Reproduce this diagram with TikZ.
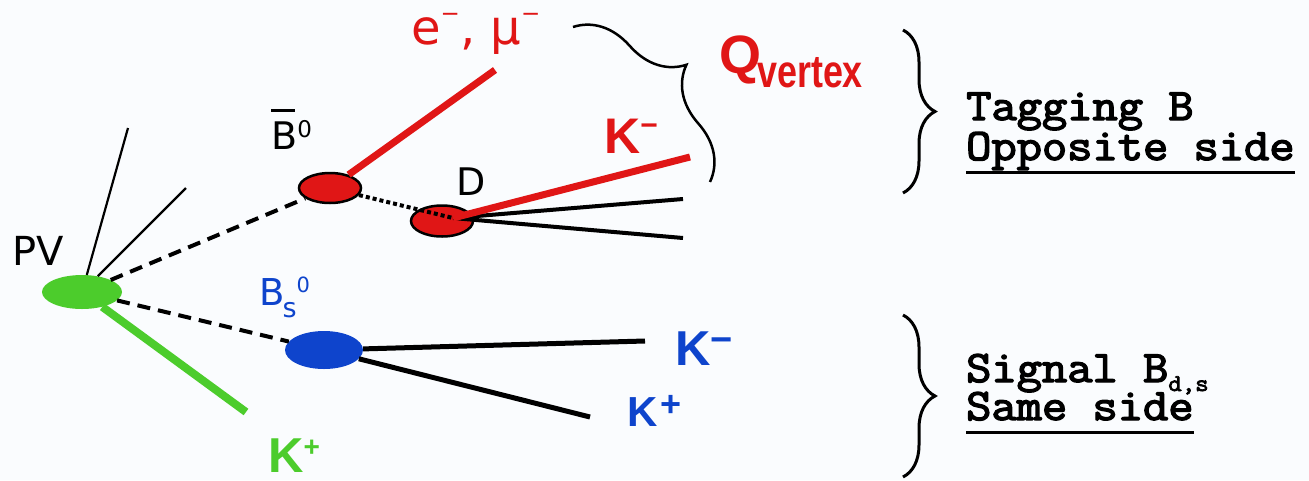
\documentclass[tikz,border=0pt]{standalone}
\usepackage{fontspec}
\setmainfont{DejaVu Sans}
\newfontfamily\arialfont{Liberation Sans}
\newfontfamily\courfont{Latin Modern Mono}[FakeBold=3]
\usepackage{graphicx}
\usetikzlibrary{shapes.geometric, decorations.pathreplacing}
\definecolor{tagred}{RGB}{224,22,22}
\definecolor{pvgreen}{RGB}{76,204,44}
\definecolor{sigblue}{RGB}{14,68,204}
\definecolor{paper}{RGB}{250,252,254}
\newcommand{\fsz}[1]{\fontsize{#1}{#1}\selectfont}
\newcommand{\lift}[3]{\raisebox{#1pt}{\fsz{#2}#3}}
\newcommand{\bbar}{\makebox[0pt][l]{\rule[37pt]{24pt}{2.8pt}}B}
\newcommand{\wide}[1]{\scalebox{1.09}[1]{#1}}
\newsavebox{\ulbox}
\newcommand{\undl}[1]{\sbox{\ulbox}{#1}\rlap{\usebox{\ulbox}}\rule[-14pt]{\wd\ulbox}{3.2pt}}

\begin{document}
\begin{tikzpicture}[x=1pt, y=1pt,
  vtx/.style={ellipse, inner sep=0pt},
  lbl/.style={anchor=base west, inner sep=0pt},
  side/.style={lbl, font=\courfont\fsz{45}},
  trk/.style={line width=2.2pt},
  fat/.style={line width=7pt},
  flight/.style={line width=4pt, dash pattern=on 13pt off 8pt},
  sidebrace/.style={line width=3pt, decorate, decoration={brace, amplitude=32pt}}]
  \fill[paper] (0,0) rectangle (1309,-480);
  \useasboundingbox (0,0) rectangle (1309,-480);

  \node[vtx, fill=pvgreen, minimum width=80, minimum height=34] (pv) at (82,-292) {};
  \node[vtx, fill=tagred, draw, line width=2.5pt, minimum width=62, minimum height=30] (b0) at (330,-188) {};
  \node[vtx, fill=tagred, draw, line width=2.5pt, minimum width=62, minimum height=31] (d) at (442,-221) {};
  \node[vtx, fill=sigblue, minimum width=78, minimum height=38] (bs) at (324,-350) {};

  \coordinate (pvt1) at (128,-128);
  \coordinate (pvt2) at (186,-188);
  \coordinate (ssk) at (246,-412);
  \coordinate (lep) at (495,-70);
  \coordinate (dsrc) at (453,-218);
  \coordinate (dk) at (690,-157);
  \coordinate (dp1) at (683,-199);
  \coordinate (dp2) at (683,-238);
  \coordinate (bskm) at (645,-341);
  \coordinate (bskp) at (590,-417);

  \draw[trk] (pv) -- (pvt1);
  \draw[trk] (pv) -- (pvt2);
  \draw[flight] (pv) -- (b0);
  \draw[flight] (pv) -- (bs);
  \draw[pvgreen, line width=8pt] (pv) -- (ssk);
  \draw[tagred, fat] (b0) -- (lep);
  \draw[line width=4pt, dash pattern=on 4pt off 3pt] (b0) -- (dsrc);
  \draw[line width=4pt] (dsrc) -- (dp1);
  \draw[line width=4pt] (dsrc) -- (dp2);
  \draw[tagred, fat] (dsrc) -- (dk);
  \draw[line width=5pt] (bs) -- (bskm);
  \draw[line width=5pt] (bs) -- (bskp);

  \node[lbl, font=\fsz{40}] (pvlab) at (12,-265) {PV};
  \node[lbl, font=\fsz{38}] (b0lab) at (271,-149) {\bbar\lift{12}{23}{0}};
  \node[lbl, font=\fsz{48}, text=tagred] (leplab) at (411,-44) {e\lift{23}{23}{−}, μ\lift{23}{23}{−}};
  \node[lbl, font=\fsz{38}] (dlab) at (456,-195) {D};
  \node[lbl, font=\arialfont\bfseries\fsz{50}, text=tagred] (dklab) at (604,-153) {K\lift{18}{30}{−}};
  \node[lbl, font=\arialfont\bfseries\fsz{54}, text=tagred] (qlab) at (719,-73) {Q\hspace{-4pt}\raisebox{-14pt}{\scalebox{0.78}[1]{\fsz{46}vertex}}};
  \node[lbl, font=\fsz{37}, text=sigblue] (bslab) at (259,-305) {B\hspace{-2pt}\lift{-12}{27}{s}\lift{13}{21}{0}};
  \node[lbl, font=\arialfont\bfseries\fsz{49}, text=sigblue] (bskmlab) at (675,-365) {K\lift{13}{38}{−}};
  \node[lbl, font=\arialfont\bfseries\fsz{42}, text=sigblue] (bskplab) at (627,-426) {K\hspace{3pt}\lift{10}{36}{+}};
  \node[lbl, font=\arialfont\bfseries\fsz{49}, text=pvgreen] (ssklab) at (268,-472) {K\lift{16}{28}{+}};

  \coordinate (qb1) at (573,-27);
  \coordinate (qb2) at (710,-182);
  \draw[line width=2.5pt, decorate, decoration={brace, amplitude=60pt}] (qb1) -- (qb2);

  \coordinate (ob1) at (903,-30);
  \coordinate (ob2) at (903,-193);
  \coordinate (sb1) at (903,-315);
  \coordinate (sb2) at (903,-477);
  \draw[sidebrace] (ob1) -- (ob2);
  \draw[sidebrace] (sb1) -- (sb2);

  \node[side] (tagtxt) at (966,-120) {\wide{Tagging B}};
  \node[side] (opptxt) at (966,-160) {\wide{\undl{Opposite side}}};
  \node[side] (sigtxt) at (966,-382) {\wide{Signal B\lift{-9}{24}{d,s}}};
  \node[side] (sametxt) at (966,-420) {\wide{\undl{Same side}}};
\end{tikzpicture}
\end{document}
